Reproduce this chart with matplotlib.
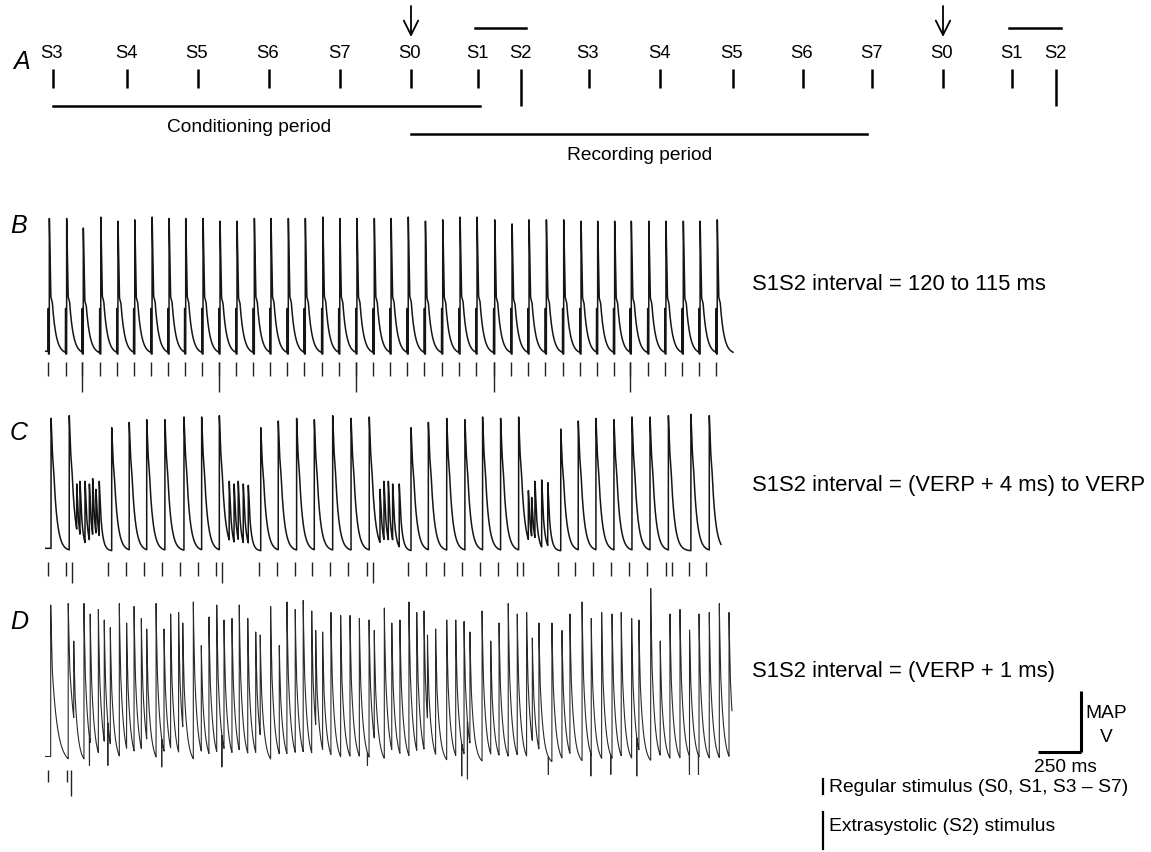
import numpy as np
import matplotlib
matplotlib.use('Agg')
import matplotlib.pyplot as plt

W, H = 1151, 853
PX = 5.77  # ms per pixel of the recording traces

# ---- panel A: stimulation protocol (schematic) ----
a_labels = ['S3', 'S4', 'S5', 'S6', 'S7', 'S0', 'S1', 'S2',
            'S3', 'S4', 'S5', 'S6', 'S7', 'S0', 'S1', 'S2']
a_x = [53, 127, 198, 269, 340, 411, 478, 521, 589, 660, 733, 803, 872, 943, 1012, 1056]

# ---- panel B: S1S2 = 120 to 115 ms ----
b_stim_ms = [19, 119, 215, 316, 415, 512, 612, 710, 806, 906, 1004, 1102, 1202, 1298,
             1398, 1496, 1597, 1695, 1794, 1894, 1991, 2090, 2189, 2289, 2389, 2487,
             2589, 2689, 2787, 2887, 2987, 3087, 3183, 3281, 3377, 3478, 3577, 3677,
             3774, 3873]
b_s2_ms = [215, 1004, 1794, 2589, 3377]
b_amp = [0.99, 0.99, 0.92, 1.00, 0.97, 0.98, 1.00, 0.99, 0.99, 0.99, 0.97, 0.97, 0.99,
         0.99, 0.99, 0.99, 1.00, 0.99, 0.99, 0.99, 0.99,
         1.00, 0.97, 0.98, 1.00, 1.00, 0.98, 0.95, 0.98, 0.98, 0.98, 0.97, 0.97, 0.97,
         0.97, 0.97, 0.97, 0.97, 0.97, 0.98]

# ---- panel C: S1S2 = (VERP + 4 ms) to VERP ----
c_stim_ms = [19, 121, 158, 364, 467, 571, 677, 781, 881, 985, 1020, 1233, 1337, 1443,
             1542, 1646, 1750, 1856, 1891, 2096, 2198, 2304, 2408, 2512, 2614, 2725,
             2758, 2958, 3056, 3160, 3266, 3371, 3475, 3581, 3616, 3716, 3816]
c_s2_ms = [158, 1020, 1891]
c_ap_ms = [35, 140, 385, 486, 587, 692, 802, 904, 1006, 1245, 1346, 1452, 1554, 1660,
           1766, 1871, 2112, 2212, 2318, 2423, 2525, 2629, 2733, 2976, 3077, 3179,
           3283, 3387, 3491, 3597, 3727, 3833]
c_ap_amp = [0.99, 1.01, 0.92, 0.96, 0.98, 0.98, 1.00, 1.00, 1.01, 0.92, 0.97, 0.99,
            0.98, 1.01, 0.99, 1.00, 0.92, 0.96, 0.99, 0.98, 1.00, 0.99, 1.00, 0.91,
            0.97, 0.99, 0.98, 1.00, 1.00, 1.01, 1.02, 1.01]
c_osc_ms = [183, 202, 231, 256, 275, 294, 313, 1063, 1091, 1115, 1144, 1173,
            1933, 1956, 1981, 2006, 2044, 2789, 2808, 2827, 2866, 2901]
c_osc_amp = [0.50, 0.52, 0.52, 0.50, 0.54, 0.46, 0.52, 0.52, 0.50, 0.52, 0.50, 0.49,
             0.46, 0.52, 0.52, 0.50, 0.50, 0.45, 0.40, 0.52, 0.53, 0.51]

# ---- panel D: S1S2 = VERP + 1 ms ----
d_stim_ms = [19, 125, 148]
d_s2_ms = [148]
d_ms = [33, 134, 166, 225, 261, 308, 342, 377, 429, 471, 514, 556, 587, 641, 687, 725,
        771, 795, 856, 902, 946, 991, 1033, 1079, 1121, 1170, 1216, 1242, 1302, 1352,
        1396, 1444, 1490, 1539, 1562, 1602, 1650, 1706, 1760, 1814, 1870, 1900, 1958,
        2001, 2048, 2100, 2145, 2187, 2207, 2254, 2318, 2370, 2418, 2452, 2522, 2572,
        2620, 2673, 2725, 2779, 2812, 2850, 2925, 2983, 3029, 3099, 3152, 3212, 3272,
        3325, 3385, 3427, 3495, 3550, 3606, 3664, 3718, 3774, 3833, 3891, 3947]
d_amp = [1.06, 1.07, 0.82, 1.07, 1.00, 1.03, 0.96, 0.91, 1.07, 0.94,
         1.05, 0.97, 0.90, 1.07, 0.90, 1.00, 1.01, 0.94, 1.08, 0.79,
         0.98, 1.06, 0.96, 0.97, 1.06, 0.97, 0.88, 0.86, 1.05, 0.79,
         1.08, 1.03, 1.09, 1.02, 0.89, 0.88, 1.01, 0.99, 0.99, 0.97,
         0.96, 0.89, 1.04, 0.94, 0.96, 1.08, 1.01, 1.02, 0.86, 0.90,
         0.96, 0.96, 0.95, 0.88, 1.02, 0.82, 0.94, 1.07, 1.00, 1.01,
         0.84, 0.94, 0.94, 0.89, 1.00, 1.08, 0.97, 1.01, 1.00, 1.01,
         0.97, 0.96, 1.17, 0.82, 1.00, 1.03, 1.00, 1.00, 1.01, 1.07, 1.01]
d_dip_ms = [256, 362, 673, 1020, 1860, 2404, 2437, 2904, 3149, 3264, 3414, 3718, 3770]
d_dip_amp = [-0.01, -0.01, -0.02, -0.02, -0.01, -0.08, -0.10, -0.07, -0.08, -0.07,
             -0.08, -0.07, -0.07]

plt.rcParams['font.family'] = ['Liberation Sans', 'DejaVu Sans']


def make_shape(knots_px, vals, tau_px):
    kx = np.array(knots_px) * PX

    def f(dt):
        out = np.interp(dt, kx, vals)
        tail = dt > kx[-1]
        out[tail] = vals[-1] * np.exp(-(dt[tail] - kx[-1]) / (tau_px * PX))
        return out
    return f


SHAPES = {
    'art': make_shape([0, 0.3, 0.31], [1, 1, 0], 1.0),
    'b': make_shape([0, 0.15, 1.5, 3.0], [1, 0.97, 0.42, 0.38], 3.8),
    'c': make_shape([0, 0.15, 1.5, 2.7, 3.5], [1, 0.97, 0.72, 0.6, 0.48], 3.6),
    'osc': make_shape([0, 0.4, 1.6], [1, 0.9, 0.5], 2.4),
    'dap': make_shape([0, 0.15, 1.5], [1, 0.95, 0.6], 5.5),
    'f': make_shape([0, 0.15, 1.2], [1, 0.9, 0.58], 3.4),
}


def build_trace(t_end, events, start=0.0, dips=()):
    t = np.arange(0, t_end, 0.25)
    v = np.full_like(t, start)
    for te, a, kind in sorted(events):
        m = t >= te
        v[m] = a * SHAPES[kind](t[m] - te)
    for td, a in dips:
        m = (t >= td) & (t < td + 1.0)
        v[m] = a
    return t, v


fig = plt.figure(figsize=(W / 100, H / 100), dpi=100)


def px_axes(x0, y0, x1, y1):
    return fig.add_axes([x0 / W, 1 - y1 / H, (x1 - x0) / W, (y1 - y0) / H])


ax0 = px_axes(0, 0, W, H)
ax0.set_xlim(0, W)
ax0.set_ylim(H, 0)
ax0.axis('off')


def trace_axes(top, bottom, base, scale):
    ax = px_axes(45, top, 735, bottom)
    ax.set_xlim(0, 690 * PX)
    ax.set_ylim(-(bottom - base) / scale, (base - top) / scale)
    ax.axis('off')
    ax.patch.set_alpha(0)
    return ax


def y_amp(base, scale, ypx):
    return (base - ypx) / scale


# ---------- panel A ----------
ax0.text(22, 62, 'A', fontsize=18, style='italic', ha='center', va='center')
for lab, x, in zip(a_labels, a_x):
    ax0.text(x - 1, 53, lab, fontsize=13.3, ha='center', va='center')
    y1 = 107 if lab == 'S2' else 89
    ax0.plot([x, x], [70, y1], color='black', lw=1.8, solid_capstyle='butt')
ax0.plot([a_x[0], a_x[6] + 2], [107, 107], color='black', lw=1.8)
ax0.text((a_x[0] + a_x[6]) / 2 - 16, 127, 'Conditioning period', fontsize=13.8,
         ha='center', va='center')
ax0.plot([a_x[5], a_x[12] - 5], [135, 135], color='black', lw=1.8)
ax0.text(640, 155, 'Recording period', fontsize=13.8, ha='center', va='center')
for i in (6, 14):
    ax0.plot([a_x[i] - 3, a_x[i + 1] + 5], [29, 29], color='black', lw=1.8)
for i in (5, 13):
    ax0.annotate('', xy=(a_x[i], 38), xytext=(a_x[i], 7),
                 arrowprops=dict(arrowstyle='->', lw=1.3, color='black',
                                 mutation_scale=26, shrinkA=0, shrinkB=0))

# ---------- panel B ----------
bB, sB = 355, 138
axB = trace_axes(205, 400, bB, sB)
ev = [(t - 0.2 * PX, 0.33, 'art') for t in b_stim_ms]
ev += [(t + 1.0 * PX, a, 'b') for t, a in zip(b_stim_ms, b_amp)]
t, v = build_trace(688 * PX, ev, start=0.02)
axB.plot(t, v, color='#151515', lw=1.1)
axB.vlines(b_stim_ms, y_amp(bB, sB, 377), y_amp(bB, sB, 363), color='#222', lw=1.0)
axB.vlines(b_s2_ms, y_amp(bB, sB, 393), y_amp(bB, sB, 363), color='#222', lw=1.0)

# ---------- panel C ----------
bC, sC = 552, 134
axC = trace_axes(405, 595, bC, sC)
ev = [(t, a, 'c') for t, a in zip(c_ap_ms, c_ap_amp)]
ev += [(t, a, 'osc') for t, a in zip(c_osc_ms, c_osc_amp)]
t, v = build_trace(676 * PX, ev, start=0.02)
axC.plot(t, v, color='#151515', lw=1.1)
c_reg = [s for s in c_stim_ms if s not in c_s2_ms]
axC.vlines(c_reg, y_amp(bC, sC, 577), y_amp(bC, sC, 563), color='#222', lw=1.0)
axC.vlines(c_s2_ms, y_amp(bC, sC, 584), y_amp(bC, sC, 563), color='#222', lw=1.0)

# ---------- panel D ----------
bD, sD = 765, 150
axD = trace_axes(585, 805, bD, sD)
kinds = ['dap', 'dap'] + ['f'] * (len(d_ms) - 2)
ev = list(zip(d_ms, d_amp, kinds))
t, v = build_trace(687 * PX, ev, start=0.05, dips=zip(d_dip_ms, d_dip_amp))
axD.plot(t, v, color='#2a2a2a', lw=0.8)
d_reg = [s for s in d_stim_ms if s not in d_s2_ms]
axD.vlines(d_reg, y_amp(bD, sD, 783), y_amp(bD, sD, 771), color='#222', lw=1.0)
axD.vlines(d_s2_ms, y_amp(bD, sD, 797), y_amp(bD, sD, 771), color='#222', lw=1.0)

# scale bar: 250 ms horizontally
t0 = (1038 - 45) * PX
yb = y_amp(bD, sD, 753)
axD.plot([t0, t0 + 250], [yb, yb], color='black', lw=2.2, clip_on=False,
         solid_capstyle='butt')
axD.plot([t0 + 250, t0 + 250], [yb, y_amp(bD, sD, 692)], color='black', lw=2.2,
         clip_on=False, solid_capstyle='butt')

# ---------- labels ----------
for lab, y in (('B', 226), ('C', 433), ('D', 622)):
    ax0.text(19, y, lab, fontsize=18, style='italic', ha='center', va='center')
ax0.text(752, 284, 'S1S2 interval = 120 to 115 ms', fontsize=15.8, va='center')
ax0.text(752, 486, 'S1S2 interval = (VERP + 4 ms) to VERP', fontsize=15.8, va='center')
ax0.text(752, 672, 'S1S2 interval = (VERP + 1 ms)', fontsize=15.8, va='center')

ax0.text(1085, 713, 'MAP', fontsize=13.8, ha='left', va='center')
ax0.text(1106, 737, 'V', fontsize=13.8, ha='center', va='center')
ax0.text(1065, 768, '250 ms', fontsize=13.8, ha='center', va='center')

ax0.plot([823, 823], [780, 795], color='black', lw=1.6)
ax0.text(829, 788, 'Regular stimulus (S0, S1, S3 \u2013 S7)', fontsize=13.9, va='center')
ax0.plot([823, 823], [813, 850], color='black', lw=1.6)
ax0.text(829, 827, 'Extrasystolic (S2) stimulus', fontsize=13.9, va='center')

fig.savefig('out.png', dpi=100)
